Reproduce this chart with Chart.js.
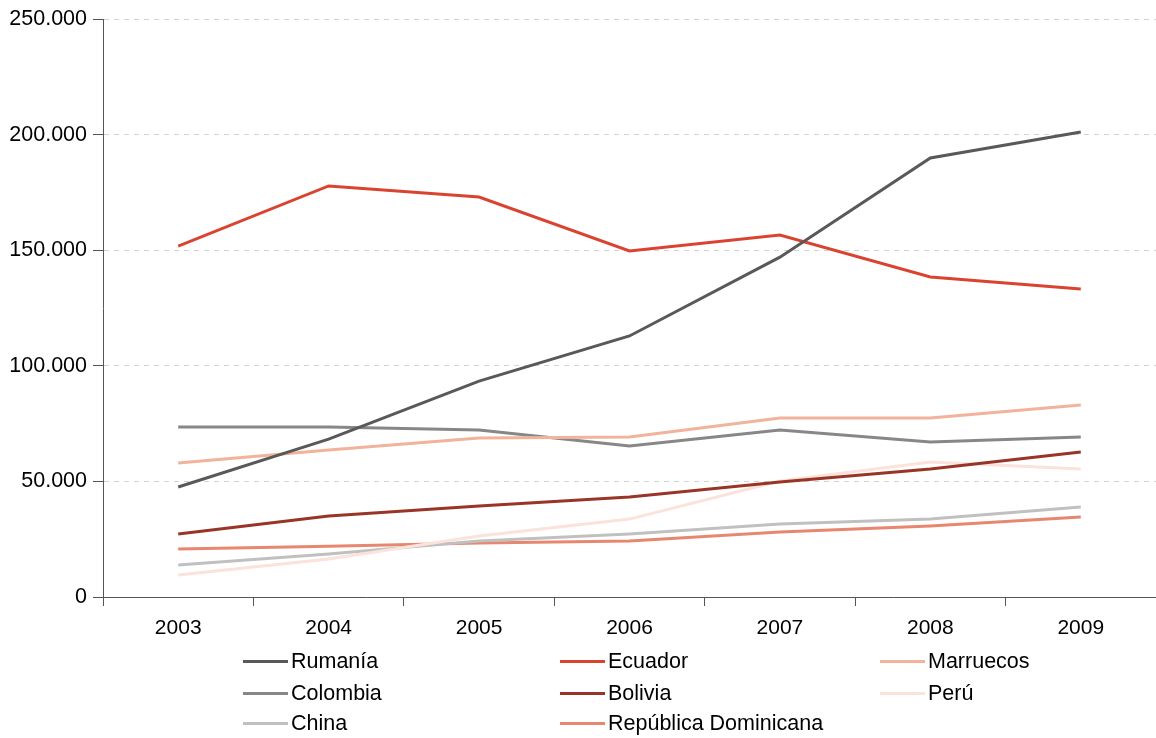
<!DOCTYPE html>
<html>
<head>
<meta charset="utf-8">
<script src="https://cdn.jsdelivr.net/npm/chart.js@4"></script>
<style>
  html, body { margin: 0; padding: 0; background: #fff; }
  #wrap { position: relative; width: 1156px; height: 738px; }
  #legend { position: absolute; left: 0; top: 646px; width: 1156px; font-family: "Liberation Sans", Arial, sans-serif; font-size: 21.5px; color: #000; }
  .item { position: absolute; display: flex; align-items: center; height: 30px; white-space: nowrap; }
  .item .ln { display: inline-block; width: 45px; height: 3px; margin-right: 3px; }
</style>
</head>
<body>
<div id="wrap">
  <canvas id="c" width="1156" height="738"></canvas>
  <div id="legend"></div>
</div>
<script>
const years = ["2003", "2004", "2005", "2006", "2007", "2008", "2009"];
const rumania   = [47600, 68300, 93400, 112900, 147000, 189900, 201100];
const ecuador   = [151800, 177800, 173000, 149700, 156600, 138400, 133200];
const marruecos = [58000, 63600, 68800, 69200, 77400, 77400, 83000];
const colombia  = [73500, 73500, 72200, 65300, 72200, 67000, 69200];
const bolivia   = [27200, 35000, 39400, 43300, 49700, 55400, 62700];
const peru      = [9500, 16400, 26400, 33700, 50200, 58400, 55400];
const china     = [13800, 18600, 24200, 27200, 31600, 33700, 38900];
const repDom    = [20800, 22000, 23400, 24200, 28100, 30700, 34600];
const seriesNames = ["Rumanía", "Ecuador", "Marruecos", "Colombia", "Bolivia", "Perú", "China", "República Dominicana"];
const yTicks = [0, 50000, 100000, 150000, 200000, 250000];

const colors = ["#595959", "#db4331", "#f2b29c", "#878787", "#993526", "#fbe2da", "#c0c0c0", "#e8876f"];
const values = [rumania, ecuador, marruecos, colombia, bolivia, peru, china, repDom];

const FONT = "'Liberation Sans', Arial, sans-serif";

const datasets = seriesNames.map((n, i) => ({
  label: n,
  data: values[i],
  borderColor: colors[i],
  backgroundColor: colors[i],
  borderWidth: 3,
  pointRadius: 0,
  pointHoverRadius: 0,
  tension: 0,
  fill: false
}));

function fmt(v) {
  return String(v).replace(/\B(?=(\d{3})+(?!\d))/g, ".");
}

const chart = new Chart(document.getElementById("c"), {
  type: "line",
  data: { labels: years, datasets: datasets },
  options: {
    responsive: false,
    animation: false,
    layout: { padding: { top: 19, right: 0, left: 0, bottom: 0 } },
    plugins: { legend: { display: false }, tooltip: { enabled: false } },
    scales: {
      x: {
        offset: true,
        grid: { offset: true, drawOnChartArea: false, tickColor: "#555", tickLength: 9, tickWidth: 1 },
        border: { color: "#555", width: 1 },
        ticks: { color: "#000", font: { family: FONT, size: 21 }, padding: 10, maxRotation: 0 },
        afterFit: (s) => { s.height = 141; }
      },
      y: {
        min: 0, max: 250000,
        afterBuildTicks: (s) => { s.ticks = yTicks.map(v => ({ value: v })); },
        grid: {
          color: (ctx) => ctx.tick && ctx.tick.value === 0 ? "rgba(0,0,0,0)" : "#d2d2d2",
          tickColor: "#555",
          tickBorderDash: [],
          tickLength: 10,
          lineWidth: 1
        },
        border: { color: "#555", width: 1, dash: [5, 5] },
        ticks: { color: "#000", font: { family: FONT, size: 21.5 }, padding: 6, callback: (v) => fmt(v) },
        afterFit: (s) => { s.width = 103; }
      }
    }
  }
});

// HTML legend in three columns
const legend = document.getElementById("legend");
const colX = [243, 560, 880];
const rowY = [0, 32, 62];
chart.data.datasets.forEach((ds, i) => {
  const div = document.createElement("div");
  div.className = "item";
  div.style.left = colX[i % 3] + "px";
  div.style.top = rowY[Math.floor(i / 3)] + "px";
  const ln = document.createElement("span");
  ln.className = "ln";
  ln.style.background = ds.borderColor;
  const tx = document.createElement("span");
  tx.textContent = ds.label;
  div.appendChild(ln);
  div.appendChild(tx);
  legend.appendChild(div);
});
</script>
</body>
</html>
